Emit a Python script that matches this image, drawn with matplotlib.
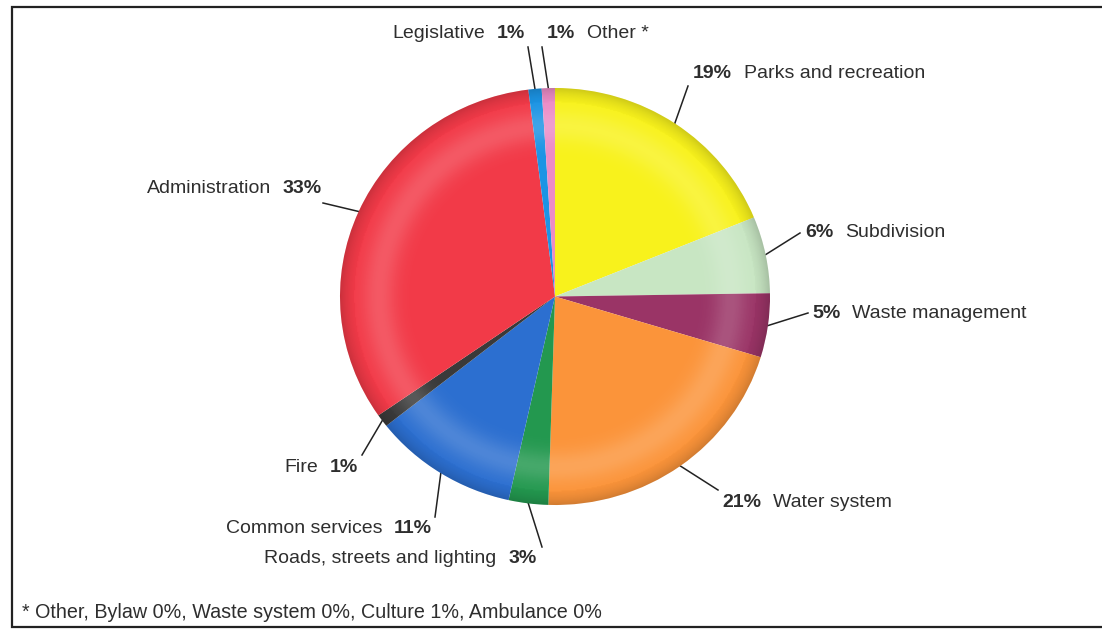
import numpy as np
import matplotlib.pyplot as plt
from matplotlib.patches import Circle

plt.rcParams['font.family'] = ['Liberation Sans', 'DejaVu Sans']

# budget shares, clockwise from twelve o'clock
labels = ['Parks and recreation', 'Subdivision', 'Waste management', 'Water system',
          'Roads, streets and lighting', 'Common services', 'Fire', 'Administration',
          'Legislative', 'Other *']
shares = [19, 6, 5, 21, 3, 11, 1, 33, 1, 1]
colors = ['#f8f21c', '#c8e6c3', '#9a3466', '#fb943a', '#23984f', '#2c6fd0',
          '#3a3a3a', '#f23a48', '#1c94e4', '#ec8cc6']
footnote = '* Other, Bylaw 0%, Waste system 0%, Culture 1%, Ambulance 0%'

W, H = 1102, 633
CX, CY = 555, 296.5
RX, RY = 215, 208.5

# leader line end (x, y), text anchor x, baseline y, side -- pixel coords from the top
layout = [
    (688, 86, 693, 78, 'right'),
    (800, 233, 805, 237, 'right'),
    (808, 313, 812, 318, 'right'),
    (718, 490, 722, 507, 'right'),
    (542, 547, 537, 563, 'left'),
    (435, 517, 432, 533, 'left'),
    (362, 455, 358, 472, 'left'),
    (323, 203, 322, 193, 'left'),
    (528, 47, 525, 38, 'left'),
    (542, 47, 547, 38, 'right'),
]

fig = plt.figure(figsize=(W / 100, H / 100), dpi=100)
ax = fig.add_axes([0, 0, 1, 1])
ax.set_xlim(0, W)
ax.set_ylim(0, H)
ax.axis('off')

# the pie sits in its own axes, slightly wider than tall
pax = fig.add_axes([(CX - RX) / W, (H - CY - RY) / H, 2 * RX / W, 2 * RY / H])
wedges, _ = pax.pie(shares, colors=colors, startangle=90, counterclock=False,
                    radius=1, wedgeprops=dict(linewidth=0))

# soft shading across the disc: light band inside the rim, darker rim
n = 400
g = np.linspace(-1, 1, n)
xx, yy = np.meshgrid(g, g)
rr = np.sqrt(xx ** 2 + yy ** 2)
shade = np.zeros((n, n, 4))
light = 0.16 * np.exp(-((rr - 0.82) / 0.08) ** 2)
dark = 0.16 * np.clip((rr - 0.9) / 0.1, 0, 1) ** 2
shade[..., :3] = np.where((light > dark)[..., None], 1.0, 0.0)
shade[..., 3] = np.maximum(light, dark)
im = pax.imshow(shade, extent=(-1, 1, -1, 1), interpolation='bilinear', zorder=3)
im.set_clip_path(Circle((0, 0), 1, transform=pax.transData))
pax.set_xlim(-1, 1)
pax.set_ylim(-1, 1)
pax.set_aspect('auto')
pax.axis('off')

fig.canvas.draw()
renderer = fig.canvas.get_renderer()
txt = '#2e2e2e'
fs = 14

for w, name, pct, (lx, ly, tx, ty, side) in zip(wedges, labels, shares, layout):
    mid = np.deg2rad((w.theta1 + w.theta2) / 2)
    sx = CX + RX * np.cos(mid)
    sy = H - CY + RY * np.sin(mid)
    ax.plot([sx, lx], [sy, H - ly], color='#222222', lw=1.1, zorder=4)
    if side == 'right':
        t = ax.text(tx, H - ty, f'{pct}%', ha='left', va='baseline',
                    fontsize=fs, fontweight='bold', color=txt)
        x1 = t.get_window_extent(renderer).x1
        ax.text(x1 + 12, H - ty, name, ha='left', va='baseline', fontsize=fs, color=txt)
    else:
        t = ax.text(tx, H - ty, f'{pct}%', ha='right', va='baseline',
                    fontsize=fs, fontweight='bold', color=txt)
        x0 = t.get_window_extent(renderer).x0
        ax.text(x0 - 12, H - ty, name, ha='right', va='baseline', fontsize=fs, color=txt)

ax.text(22, H - 618, footnote, ha='left', va='baseline', fontsize=14.2, color=txt)

# chart border
ax.plot([W, 12, 12, W], [H - 7, H - 7, H - 627, H - 627], color='#222222',
        lw=1.6, solid_joinstyle='miter', zorder=5)

fig.savefig('out.png', dpi=100)
